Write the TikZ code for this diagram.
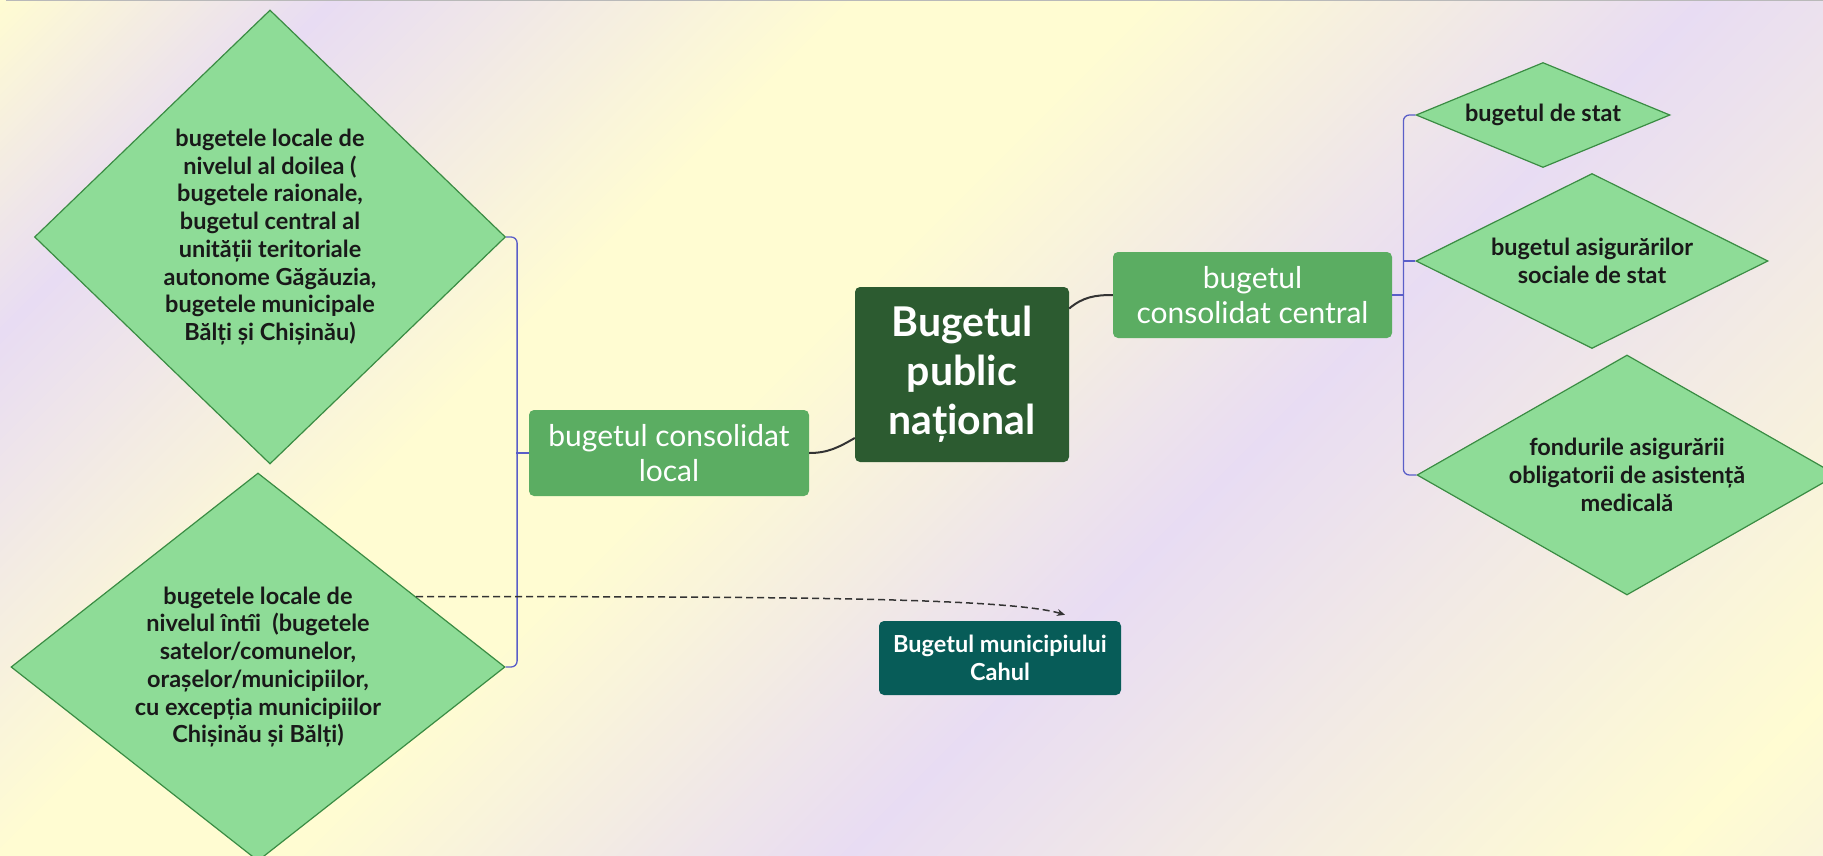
\documentclass[tikz,border=0pt]{standalone}
\usepackage{fontspec}
\setmainfont{Lato}
\usetikzlibrary{shapes.geometric,arrows.meta}
\definecolor{bgY}{HTML}{FFFCD2}
\definecolor{bgL}{HTML}{E8DCF3}
\definecolor{diaFill}{HTML}{8EDC97}
\definecolor{diaLine}{HTML}{3A8C43}
\definecolor{boxGreen}{HTML}{5BAD62}
\definecolor{mainGreen}{HTML}{2C5B30}
\definecolor{cahulTeal}{HTML}{075C58}
\definecolor{brBlue}{HTML}{5A5EC8}
\definecolor{connGray}{HTML}{333333}
\begin{document}
\begin{tikzpicture}[x=1pt,y=-1pt,
  dia/.style={diamond, draw=diaLine, fill=diaFill, line width=1.2pt,
    inner xsep=-30pt, inner ysep=-8pt,
    align=center, text=black!90, font=\bfseries\fontsize{23.5}{27.7}\selectfont},
  gbox/.style={rectangle, rounded corners=5pt, fill=boxGreen, text=white, align=center,
    inner sep=0pt, font=\fontsize{30}{35}\selectfont},
  mainbox/.style={rectangle, rounded corners=5pt, fill=mainGreen, text=white, align=center,
    inner sep=0pt, font=\bfseries\fontsize{41}{49}\selectfont},
  cahulbox/.style={rectangle, rounded corners=5pt, fill=cahulTeal, text=white, align=center,
    inner sep=0pt, font=\bfseries\fontsize{23.5}{27.7}\selectfont},
  br/.style={draw=brBlue, line width=1.3pt},
  conn/.style={draw=connGray, line width=2pt},
  dashedarrow/.style={draw=connGray, line width=1.5pt, dash pattern=on 7pt off 4pt,
    -{Stealth[length=8pt,width=7pt]}}]
\useasboundingbox (0,0) rectangle (1823,856);
% background gradient
\begin{scope}
\clip (0,0) rectangle (1823,856);
\foreach \ss in {0,8,...,2680} {
  \pgfmathsetmacro\tt{\ss<330 ? 100-(\ss/330)*100 : (\ss<850 ? ((\ss-330)/520)*100 : (\ss<1150 ? 100 : (\ss<1700 ? 100-((\ss-1150)/550)*100 : (\ss<2520 ? ((\ss-1700)/820)*100 : 100-((\ss-2520)/160)*25))))}
  \fill[bgY!\tt!bgL] (\ss,0) -- ++(9.5,0) -- ++(-856,856) -- ++(-9.5,0) -- cycle;
}
\end{scope}
\draw[color=gray!55, line width=1pt] (6,0.5) -- (1823,0.5);

% nodes
\node[dia, aspect=1.03, minimum width=471pt, minimum height=454pt] (d1) at (270,237)
  {bugetele locale de\\ nivelul al doilea (\\bugetele raionale,\\bugetul central al\\unității teritoriale\\autonome Găgăuzia,\\bugetele municipale\\ Bălți și Chișinău)};
\node[dia, aspect=1.27, minimum width=494pt, minimum height=388pt] (d2) at (258,667)
  {bugetele locale de\\nivelul întîi~ (bugetele\\satelor/comunelor,\\orașelor/municipiilor,\\cu excepția municipiilor\\Chișinău și Bălți)};
\node[gbox, minimum width=280pt, minimum height=86pt] (local) at (669,453)
  {bugetul consolidat\\local};
\node[mainbox, minimum width=214pt, minimum height=175pt] (main) at (962,374.5)
  {Bugetul\\public\\național};
\node[gbox, minimum width=279pt, minimum height=86pt] (central) at (1252.5,295)
  {bugetul\\consolidat central};
\node[dia, aspect=2.4, minimum width=254pt, minimum height=105pt] (ds) at (1543,115)
  {bugetul de stat};
\node[dia, aspect=2, minimum width=352pt, minimum height=175pt] (da) at (1592,261)
  {bugetul asigurărilor\\sociale de stat};
\node[dia, aspect=1.75, minimum width=420pt, minimum height=240pt] (df) at (1627,475)
  {fondurile asigurării\\obligatorii de asistență\\medicală};
\node[cahulbox, minimum width=242pt, minimum height=74pt] (cahul) at (1000,658)
  {Bugetul municipiului\\Cahul};

% connectors
\draw[conn] (local.east) to[out=0,in=210] ([yshift=-63.5pt]main.west);
\draw[conn] ([yshift=66pt]main.east) to[out=40,in=180] (central.west);
\draw[br, rounded corners=6pt] (d1.east) -- ++(11,0) |- (d2.east);
\draw[br] (local.west) -- ++(-13,0);
\draw[br, rounded corners=6pt] (ds.west) -- ++(-12,0) |- (df.west);
\draw[br] (da.west) -- ++(-12,0);
\draw[br] (central.east) -- ++(12,0);
\draw[dashedarrow] (d2.24) .. controls +(330,0) and +(-60,-18) .. ([xshift=65pt,yshift=6pt]cahul.north);
\end{tikzpicture}
\end{document}
